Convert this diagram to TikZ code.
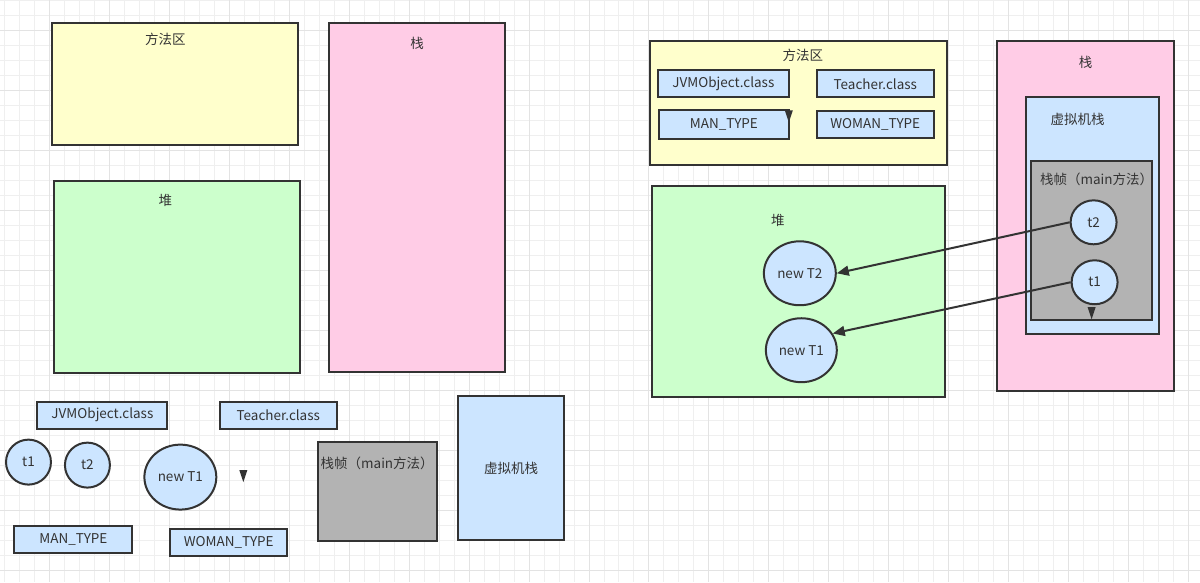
\documentclass[tikz,border=0pt]{standalone}
\usepackage{fontspec}
\setmainfont{Noto Sans CJK SC}
\usetikzlibrary{positioning, arrows.meta, shapes.geometric}
\definecolor{areayellow}{HTML}{FFFFCC}
\definecolor{stackpink}{HTML}{FFCCE6}
\definecolor{heapgreen}{HTML}{CCFFCC}
\definecolor{objblue}{HTML}{CCE5FF}
\definecolor{framegray}{HTML}{B3B3B3}
\definecolor{inkgray}{HTML}{333333}
\definecolor{gridminor}{HTML}{EFEFEF}
\definecolor{gridmajor}{HTML}{E3E3E3}

\begin{document}
\begin{tikzpicture}[
      x=1pt, y=-1pt,
      every node/.style={font=\fontsize{13.5}{15}\selectfont, text=inkgray},
      region/.style={draw=inkgray, line width=2pt, inner sep=0pt},
      cls/.style={draw=inkgray, line width=2pt, fill=objblue,
                  minimum height=27pt, inner sep=0pt},
      ref/.style={ellipse, draw=inkgray, line width=2pt, fill=objblue,
                  inner sep=0pt},
      tip/.style={fill=inkgray},
      >={Triangle[length=12pt, width=10pt]},
    ]
    % background grid
    \fill[white] (0,0) rectangle (1200,582);
    \foreach \gx in {4,19,...,1200} \draw[gridminor, line width=1pt] (\gx,0) -- (\gx,582);
    \foreach \gy in {0,15,...,582} \draw[gridminor, line width=1pt] (0,\gy) -- (1200,\gy);
    \foreach \gx in {49,109,...,1200} \draw[gridmajor, line width=1pt] (\gx,0) -- (\gx,582);
    \foreach \gy in {30,90,...,582} \draw[gridmajor, line width=1pt] (0,\gy) -- (1200,\gy);

    % left: loose parts
    \node[region, fill=areayellow, minimum width=246pt, minimum height=122pt] (lmeth) at (175,84) {};
    \node (lmethlbl) at (165,39) {方法区};
    \node[region, fill=stackpink, minimum width=176pt, minimum height=349pt] (lstack) at (417,197.5) {};
    \node (lstacklbl) at (417,43) {栈};
    \node[region, fill=heapgreen, minimum width=246pt, minimum height=192pt] (lheap) at (177,277) {};
    \node (lheaplbl) at (165,200) {堆};

    \node[cls, minimum width=130pt] (ljvm)   at (102,415)   {JVMObject.class};
    \node[cls, minimum width=117pt] (lteach) at (278,415)   {Teacher.class};
    \node[cls, minimum width=118pt] (lman)   at (73,539.5)  {MAN\_TYPE};
    \node[cls, minimum width=117pt] (lwoman) at (228.5,542.5) {WOMAN\_TYPE};

    \node[ref, minimum width=45pt, minimum height=45pt] (lt1)   at (28,462)  {t1};
    \node[ref, minimum width=45pt, minimum height=45pt] (lt2)   at (87,465)  {t2};
    \node[ref, minimum width=72pt, minimum height=65pt] (lnew1) at (180,477) {new T1};
    \fill[tip] (239,470) -- (247,470) -- (243,482) -- cycle;

    \node[region, fill=framegray, minimum width=119pt, minimum height=99pt] (lframe) at (377.5,491.5) {};
    \node (lframelbl) at (377,463) {栈帧（main方法）};
    \node[region, fill=objblue, minimum width=106pt, minimum height=144pt] (lvm) at (511,468) {虚拟机栈};

    % right: method area
    \node[region, fill=areayellow, minimum width=297pt, minimum height=124pt] (rmeth) at (798.5,103) {};
    \node (rmethlbl) at (803,55) {方法区};
    \node[cls, minimum width=131pt] (rjvm)   at (723.5,83.5) {JVMObject.class};
    \node[cls, minimum width=117pt] (rteach) at (875.5,83.5) {Teacher.class};
    \node[cls, minimum width=130pt, minimum height=29pt] (rman) at (724,124) {MAN\_TYPE};
    \node[cls, minimum width=117pt] (rwoman) at (875.5,124.5) {WOMAN\_TYPE};
    \fill[tip] (785,110) -- (793,110) -- (789,122) -- cycle;

    % right: heap
    \node[region, fill=heapgreen, minimum width=293pt, minimum height=211pt] (rheap) at (798.5,291.5) {};
    \node (rheaplbl) at (778,220) {堆};
    \node[ref, minimum width=72pt, minimum height=64pt] (rnew2) at (800,273)   {new T2};
    \node[ref, minimum width=71pt, minimum height=64pt] (rnew1) at (801.5,350) {new T1};

    % right: stack
    \node[region, fill=stackpink, minimum width=177pt, minimum height=350pt] (rstack) at (1085.5,216) {};
    \node (rstacklbl) at (1086,62) {栈};
    \node[region, fill=objblue, minimum width=133pt, minimum height=237pt] (rvm) at (1092.5,215.5) {};
    \node (rvmlbl) at (1078,119) {虚拟机栈};
    \node[region, fill=framegray, minimum width=121pt, minimum height=159pt] (rframe) at (1091.5,240.5) {};
    \node (rframelbl) at (1097,179) {栈帧（main方法）};
    \node[ref, minimum width=46pt, minimum height=44pt] (rt2) at (1094,222) {t2};
    \node[ref, minimum width=46pt, minimum height=44pt] (rt1) at (1095,282) {t1};
    \fill[tip] (1088,307) -- (1096,307) -- (1092,319) -- cycle;

    \draw[->, inkgray, line width=2pt] (rt2.west) -- (rnew2.east);
    \draw[->, inkgray, line width=2pt] (rt1.west) -- (rnew1.28);
  \end{tikzpicture}
\end{document}
